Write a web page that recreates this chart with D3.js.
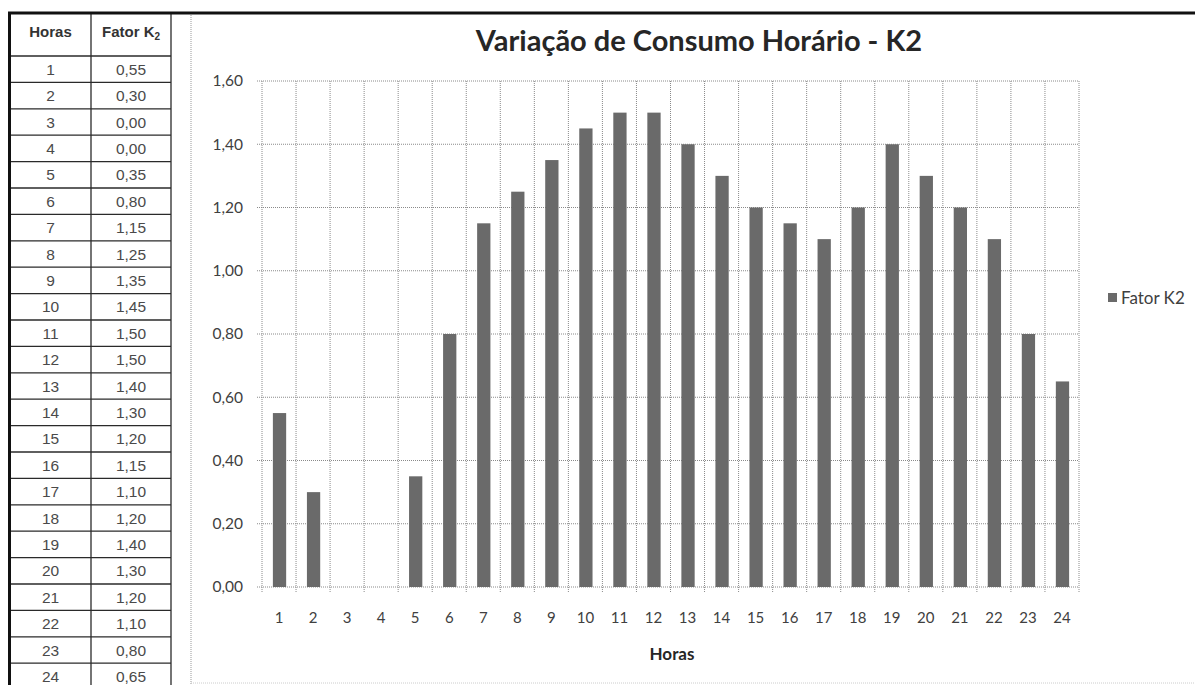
<!DOCTYPE html>
<html><head><meta charset="utf-8">
<script src="https://cdn.jsdelivr.net/npm/d3@7"></script>
<style>
html,body{margin:0;padding:0;background:#fff;}
svg{display:block;}
</style></head>
<body>
<svg id="c" width="1195" height="685"></svg>
<script>
const hours = [1,2,3,4,5,6,7,8,9,10,11,12,13,14,15,16,17,18,19,20,21,22,23,24];
const fatorK2 = [0.55,0.30,0.00,0.00,0.35,0.80,1.15,1.25,1.35,1.45,1.50,1.50,1.40,1.30,1.20,1.15,1.10,1.20,1.40,1.30,1.20,1.10,0.80,0.65];
const yTicks = [0,0.2,0.4,0.6,0.8,1.0,1.2,1.4,1.6];
const title = "Variação de Consumo Horário - K2";
const xTitle = "Horas";
const seriesName = "Fator K2";
const tableHeaders = ["Horas","Fator K"];

const svg = d3.select("#c");
const fmt = v => d3.format(".2f")(v).replace(".", ",");
const chartFont = "Lato, 'Open Sans', sans-serif";
const tableFont = "'Liberation Sans', Arial, sans-serif";

// ---------- Table ----------
const tx0 = 10, tx1 = 91, tx2 = 171, ty0 = 13, ty1 = 56, rowH = 26.4;
const tbl = svg.append("g");
tbl.append("text").attr("x",(tx0+tx1)/2).attr("y",37).attr("text-anchor","middle")
  .attr("font-family",tableFont).attr("font-weight","bold").attr("font-size",15).attr("fill","#333")
  .text(tableHeaders[0]);
const h2 = tbl.append("text").attr("x",(tx1+tx2)/2).attr("y",37).attr("text-anchor","middle")
  .attr("font-family",tableFont).attr("font-weight","bold").attr("font-size",15).attr("fill","#333");
h2.append("tspan").text(tableHeaders[1]);
h2.append("tspan").attr("font-size",10).attr("dy",3).text("2");
hours.forEach((h,i)=>{
  const yc = ty1 + rowH*i + rowH/2 + 5.5;
  tbl.append("text").attr("x",(tx0+tx1)/2).attr("y",yc).attr("text-anchor","middle")
    .attr("font-family",tableFont).attr("font-size",15.5).attr("fill","#4a4a4a").text(h);
  tbl.append("text").attr("x",(tx1+tx2)/2).attr("y",yc).attr("text-anchor","middle")
    .attr("font-family",tableFont).attr("font-size",15.5).attr("fill","#4a4a4a").text(fmt(fatorK2[i]));
});
for(let i=0;i<=hours.length;i++){
  const y = ty1 + rowH*i;
  tbl.append("line").attr("x1",tx0).attr("x2",tx2).attr("y1",y).attr("y2",y).attr("stroke","#2a2a2a").attr("stroke-width",1.3);
}
tbl.append("line").attr("x1",tx1).attr("x2",tx1).attr("y1",ty0).attr("y2",700).attr("stroke","#2a2a2a").attr("stroke-width",1.3);
tbl.append("line").attr("x1",tx2).attr("x2",tx2).attr("y1",ty0).attr("y2",700).attr("stroke","#2a2a2a").attr("stroke-width",1.3);
tbl.append("line").attr("x1",tx0-0.5).attr("x2",tx0-0.5).attr("y1",ty0).attr("y2",700).attr("stroke","#111").attr("stroke-width",3);

// ---------- Chart area border ----------
svg.append("line").attr("x1",191).attr("x2",191).attr("y1",ty0).attr("y2",685).attr("stroke","#999").attr("stroke-dasharray","1,1");
svg.append("line").attr("x1",191).attr("x2",1195).attr("y1",683).attr("y2",683).attr("stroke","#ccc").attr("stroke-dasharray","1,1");
svg.append("line").attr("x1",8).attr("x2",1195).attr("y1",ty0).attr("y2",ty0).attr("stroke","#111").attr("stroke-width",3);

// ---------- Chart ----------
const px0 = 262, px1 = 1079, py0 = 587, py1 = 81;
const x = d3.scaleBand().domain(hours).range([px0,px1]).padding(0);
const y = d3.scaleLinear().domain([0,1.6]).range([py0,py1]);

const grid = svg.append("g");
yTicks.forEach(t=>{
  grid.append("line").attr("x1",px0-5).attr("x2",px1).attr("y1",y(t)).attr("y2",y(t))
    .attr("stroke","#8a8a8a").attr("stroke-dasharray","1,1");
});
const bounds = hours.map(h=>x(h)).concat([x.range()[1]]);
bounds.forEach(b=>{
  grid.append("line").attr("x1",b).attr("x2",b).attr("y1",py1).attr("y2",py0+5)
    .attr("stroke","#8a8a8a").attr("stroke-dasharray","1,1");
});

// y axis
const yAxis = d3.axisLeft(y).tickValues(yTicks).tickFormat(fmt).tickSize(0).tickPadding(19);
const ya = svg.append("g").attr("transform",`translate(${px0},0)`).call(yAxis);
ya.select(".domain").remove();
ya.selectAll("text").attr("font-family",chartFont).attr("font-size",15.5).attr("fill","#404040");

// x axis
const xAxis = d3.axisBottom(x).tickSize(0).tickPadding(25);
const xa = svg.append("g").attr("transform",`translate(0,${py0})`).call(xAxis);
xa.select(".domain").remove();
xa.selectAll("text").attr("font-family",chartFont).attr("font-size",15).attr("fill","#404040");

// bars
const bw = x.bandwidth()*0.39;
svg.append("g").selectAll("rect").data(hours).join("rect")
  .attr("x",(h)=>x(h)+x.bandwidth()/2-bw/2+0.5)
  .attr("width",bw)
  .attr("y",(h,i)=>y(fatorK2[i]))
  .attr("height",(h,i)=>y(0)-y(fatorK2[i]))
  .attr("fill","#6a6a6a");

// title
svg.append("text").attr("x",699).attr("y",51).attr("text-anchor","middle")
  .attr("font-family",chartFont).attr("font-weight","bold").attr("font-size",29).attr("fill","#262626")
  .text(title);
// x title
svg.append("text").attr("x",672).attr("y",660).attr("text-anchor","middle")
  .attr("font-family",chartFont).attr("font-weight","bold").attr("font-size",17).attr("fill","#262626")
  .text(xTitle);
// legend
svg.append("rect").attr("x",1108).attr("y",293).attr("width",9).attr("height",9).attr("fill","#6a6a6a");
svg.append("text").attr("x",1121).attr("y",303.5)
  .attr("font-family",chartFont).attr("font-size",17).attr("fill","#404040").text(seriesName);
</script>
</body></html>
